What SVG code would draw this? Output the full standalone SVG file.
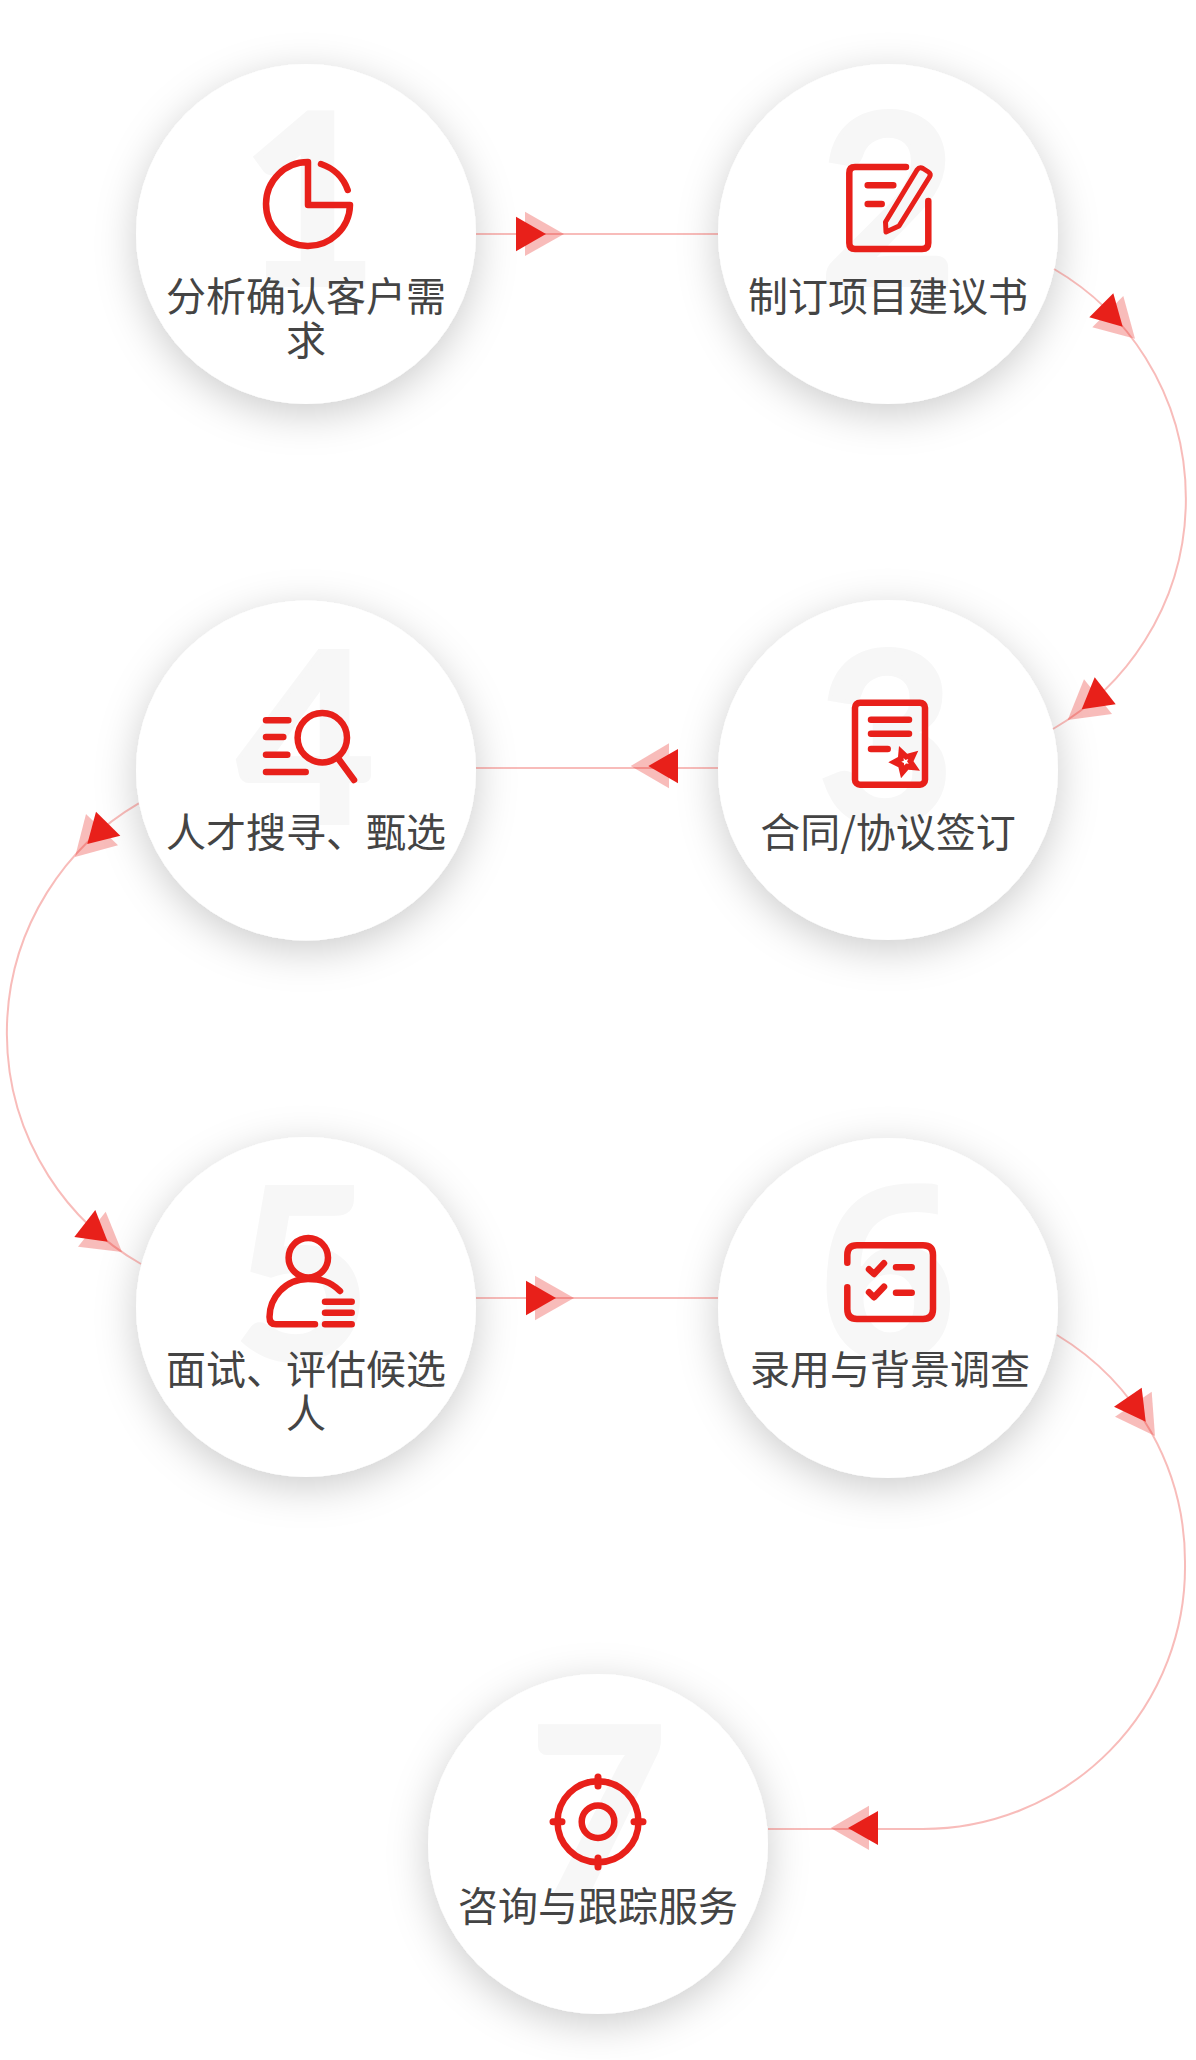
<svg xmlns="http://www.w3.org/2000/svg" width="1196" height="2060" viewBox="0 0 1196 2060">
<defs>
<filter id="sh" x="-40%" y="-40%" width="180%" height="180%"><feDropShadow dx="0" dy="10" stdDeviation="20" flood-color="#000" flood-opacity="0.2"/></filter>
</defs>
<style>
.c{fill:#fff;filter:url(#sh)}
.d{font-family:"Lato",sans-serif;font-weight:700;font-size:238px;fill:#f7f7f7;stroke:#f7f7f7;stroke-width:4;text-anchor:middle}
.o{font-family:"Open Sans",sans-serif;font-weight:700;font-size:245px;fill:#f7f7f7;text-anchor:middle}
.t{font-family:"Noto Sans CJK SC","Noto Sans",sans-serif;font-size:40px;fill:#444;text-anchor:middle}
.i{fill:none;stroke:#e8201a;stroke-width:6.500;stroke-linecap:round;stroke-linejoin:round}
.l{fill:none;stroke:#e8201a;stroke-opacity:.3;stroke-width:2}
.r{fill:#e8201a}
.p{fill:#e8201a;fill-opacity:.3}
</style>
<rect width="1196" height="2060" fill="#fff"/>
<g id="node1"><circle class="c" cx="306" cy="234" r="170"/><text class="d" x="309" y="285">1</text>
<path class="i" d="M308 162V205H350A42 42 0 1 1 308 162M321 164A42 42 0 0 1 347.700 190"/>
<text class="t" x="306" y="311">分析确认客户需</text><text class="t" x="306" y="355">求</text></g>
<g id="node2"><circle class="c" cx="888" cy="234" r="170"/><text class="d" x="888" y="285">2</text>
<path class="i" d="M906 167H855Q849.300 167 849.300 173V243Q849.300 249 855 249H922Q928.300 249 928.300 243V201M867.700 185.300H893.300M867.700 204H881.700"/>
<path class="i" style="stroke-width:5" d="M885.500 222L917 170Q919.500 166.500 923 168.500L928.500 172Q931.500 174 929.500 177L899 226L886 232Z"/>
<text class="t" x="888" y="311">制订项目建议书</text></g>
<g id="node3"><circle class="c" cx="888" cy="770" r="170"/><text class="d" x="886" y="823">3</text>
<rect class="i" x="855" y="702.700" width="70" height="82" rx="5"/>
<path class="i" d="M871 719.700H909M871 733.700H909M871 749H887.700"/>
<polygon class="r" points="899,746 907.200,753.800 918.300,750.700 913.500,761.300 920,770.700 908.300,769.800 901,778.300 898.400,767.300 888.300,762.300 898,757.100"/>
<polygon fill="#fff" points="903.600,758 905.500,760 908.300,759.100 907.100,761.500 908.800,763.700 906,763.400 904.300,765.600 903.900,762.900 901.300,761.800 903.800,760.700"/>
<text class="t" x="888" y="847">合同/协议签订</text></g>
<g id="node4"><circle class="c" cx="306" cy="770.500" r="170"/><text class="d" x="306" y="823">4</text>
<circle class="i" cx="322.300" cy="737.700" r="24.700"/>
<path class="i" d="M339.300 760L354 780M266 720.300H288.300M266 737H283.300M266 754.700H287.300M266 772H305.700"/>
<text class="t" x="306" y="847">人才搜寻、甄选</text></g>
<g id="node5"><circle class="c" cx="306" cy="1307" r="170"/><text class="d" x="302" y="1359">5</text>
<circle class="i" cx="308.300" cy="1257.700" r="19.700"/>
<path class="i" d="M340 1291C330 1281 320 1279 308 1279C285 1279 269.500 1298 269.500 1317Q269.500 1324.300 276 1324.300H315M325 1301.700H351.700M325 1312.700H351.700M325 1324.300H351.700"/>
<text class="t" x="306" y="1384">面试、评估候选</text><text class="t" x="306" y="1428">人</text></g>
<g id="node6"><circle class="c" cx="888" cy="1308" r="170"/><text class="o" x="888" y="1360">6</text>
<path class="i" d="M847.300 1262.700V1255Q847.300 1245.300 857 1245.300H923Q933 1245.300 933 1255V1309Q933 1319 923 1319H857Q847.300 1319 847.300 1309V1287.300M869 1269.300L874 1274L884 1263.300M869 1292.300L874 1297.300L884 1286.700M896 1267.300H911.700M896 1292.700H911.700"/>
<text class="t" x="890" y="1384">录用与背景调查</text></g>
<g id="node7"><circle class="c" cx="598" cy="1844" r="170"/><text class="d" x="598" y="1898">7</text>
<circle class="i" cx="598" cy="1821.700" r="40.500"/><circle class="i" cx="598" cy="1821.700" r="16.300"/>
<path class="i" style="stroke-width:7" d="M598 1777V1786M598 1858V1867M553 1821.700H562M634 1821.700H643"/>
<text class="t" x="598" y="1921">咨询与跟踪服务</text></g>
<g id="connectors">
<path class="l" d="M476 234H718"/>
<polygon class="p" points="525,211.700 564,234 525,256"/><polygon class="r" points="516,216.700 546,234 516,251.300"/>
<path class="l" d="M1054 269A266 266 0 0 1 1053 729"/>
<polygon class="p" points="1123.300,296 1092.300,327.300 1135,338.700"/><polygon class="r" points="1113.300,293.300 1089.300,317.300 1122.700,326.700"/>
<polygon class="p" points="1084,679.300 1112,714 1067.700,720"/><polygon class="r" points="1094.700,677.300 1115.700,704.300 1081.700,709.300"/>
<path class="l" d="M718 768H476"/>
<polygon class="p" points="669,743.300 630.700,766 669,788.300"/><polygon class="r" points="678,749 648.300,766 678,783.300"/>
<path class="l" d="M138.700 803.300A266 266 0 0 0 141 1264"/>
<polygon class="p" points="86,814 118,845.300 75,857"/><polygon class="r" points="96,811.700 120.300,835.700 87.300,844"/>
<polygon class="p" points="105.700,1211.700 122,1252 78,1246.700"/><polygon class="r" points="95.300,1210 107.700,1241.700 74.300,1237"/>
<path class="l" d="M476 1298H718"/>
<polygon class="p" points="535,1275.700 574,1298 535,1320.300"/><polygon class="r" points="526,1280.700 556,1298 526,1315.300"/>
<path class="l" d="M1057 1335A265 265 0 0 1 1185 1563A262 262 0 0 1 923 1829H768"/>
<polygon class="p" points="1151.700,1391.700 1115,1416.700 1155,1436"/><polygon class="r" points="1141.700,1387.700 1114,1406.700 1145.700,1421.700"/>
<polygon class="p" points="869,1805.700 830.700,1828 869,1850"/><polygon class="r" points="878,1811 848,1828 878,1845"/>
</g>
</svg>
